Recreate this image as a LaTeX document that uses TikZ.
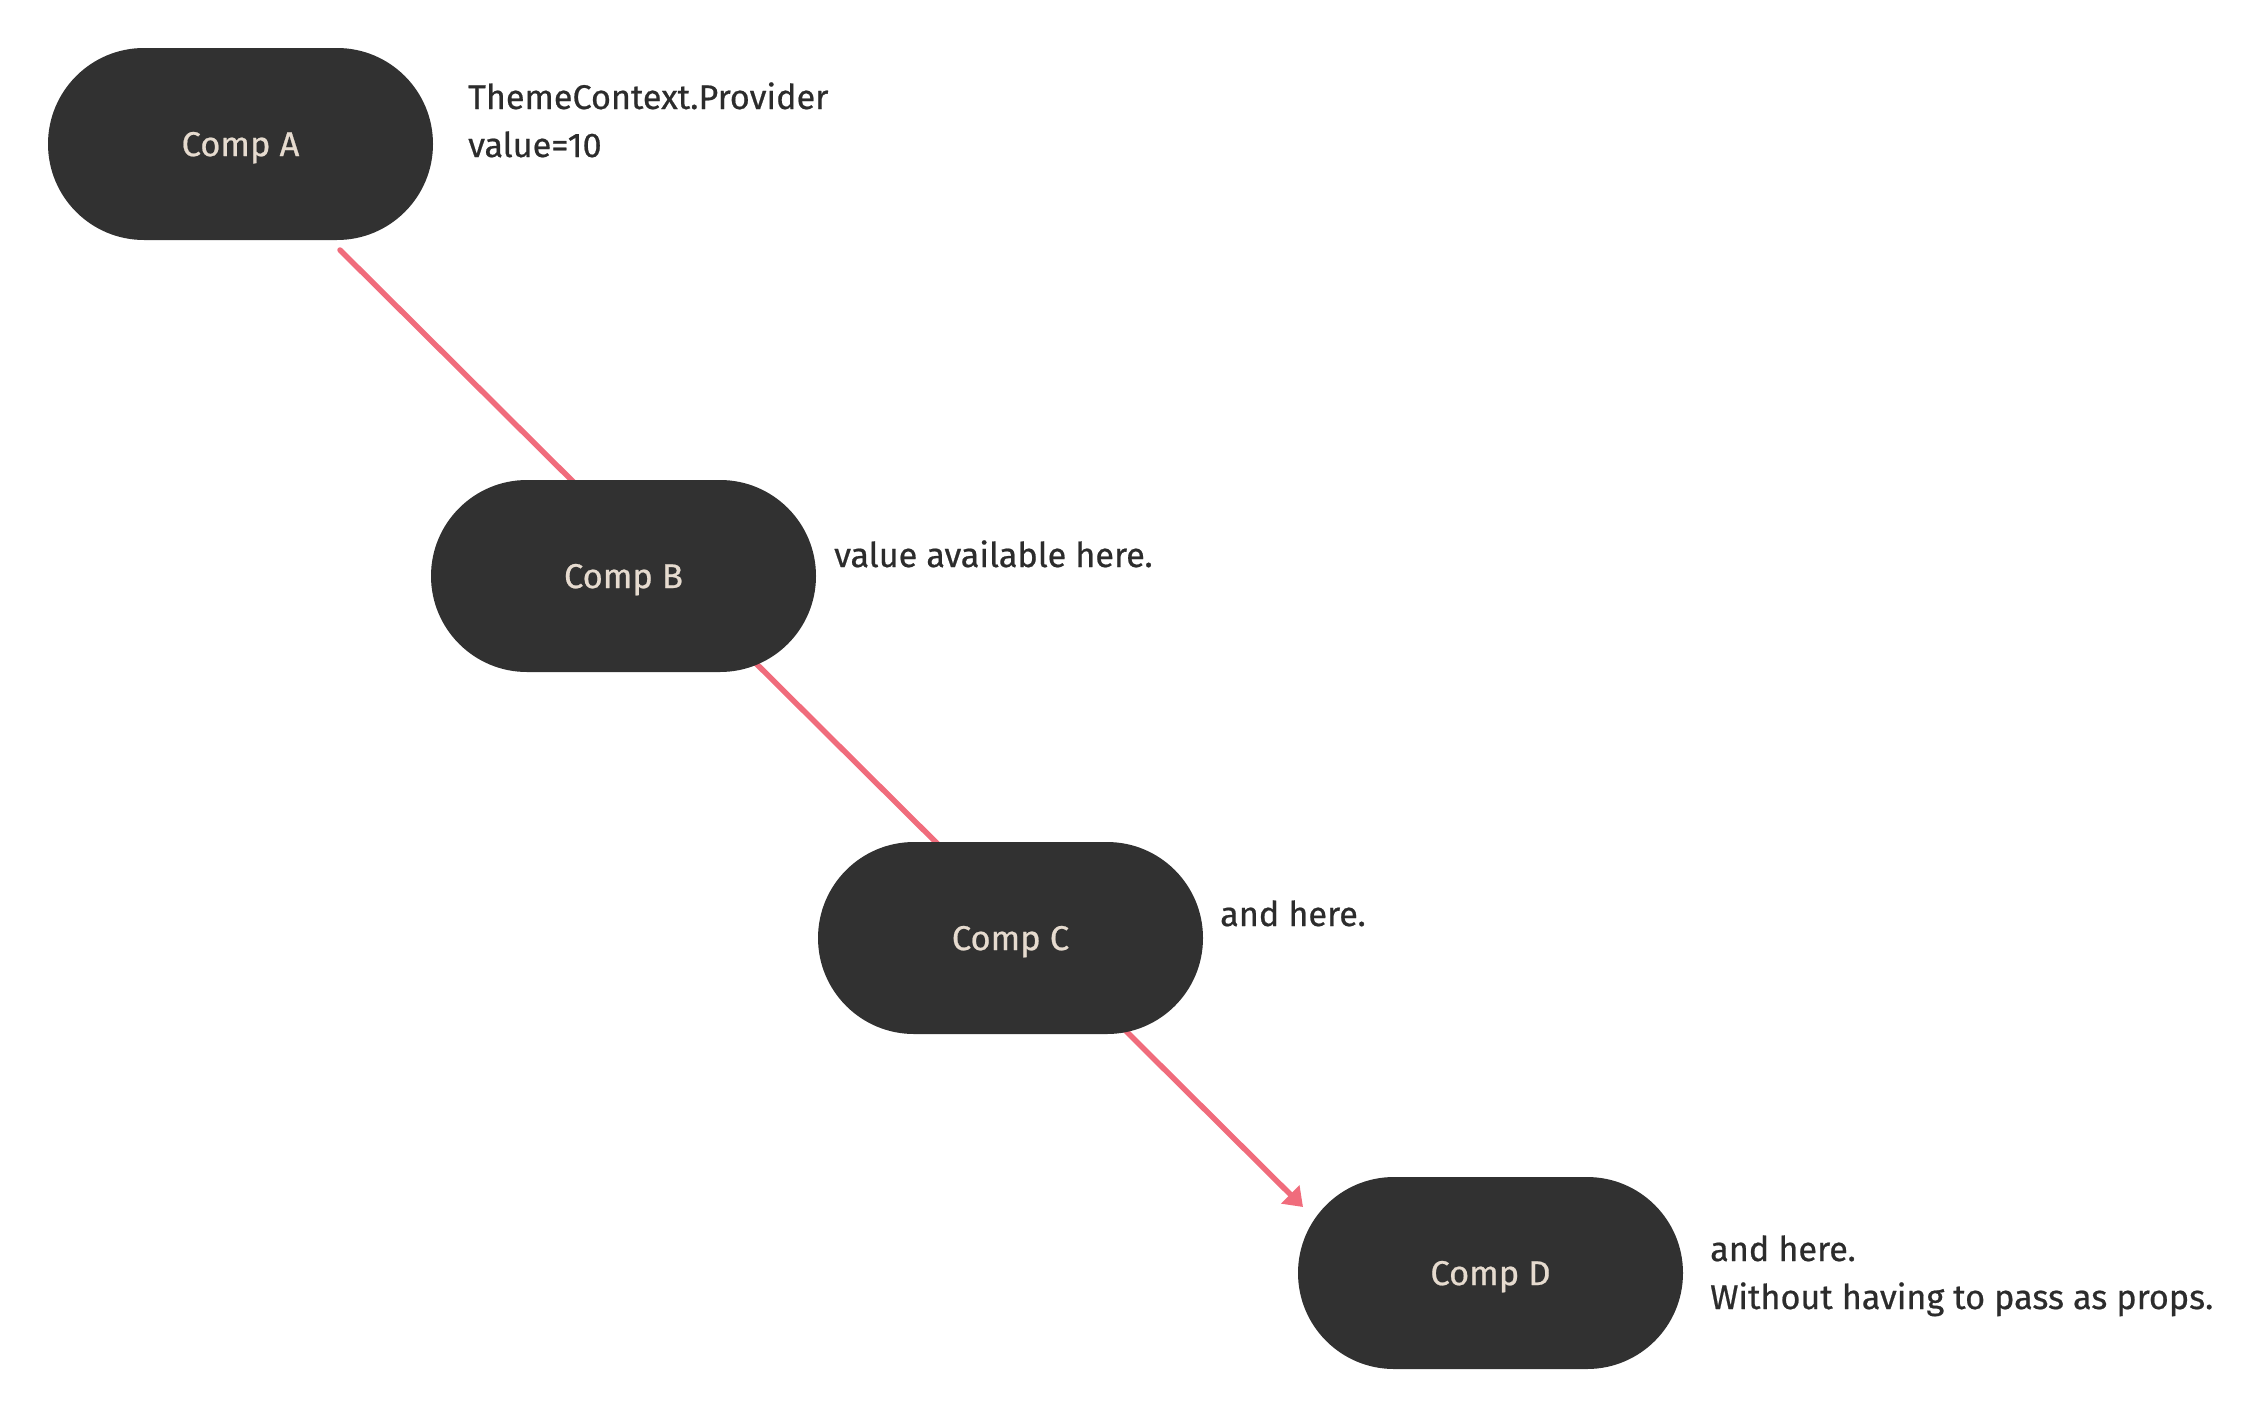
\documentclass[tikz,border=0pt]{standalone}
\usepackage{fontspec}
\setmainfont{Fira Sans}[FakeBold=0.6]
\usetikzlibrary{calc,arrows.meta,backgrounds}
\definecolor{nodefill}{HTML}{313131}
\definecolor{nodetext}{HTML}{E6DBCF}
\definecolor{labeltext}{HTML}{2C2C2C}
\definecolor{linkpink}{HTML}{F06C7C}
\begin{document}
\begin{tikzpicture}[x=1pt,y=-1pt,
  comp/.style={rectangle, rounded corners=96pt, fill=nodefill, text=nodetext,
    minimum width=385pt, minimum height=192pt, inner sep=0pt, text depth=0pt,
    font=\fontsize{34.5}{40}\selectfont},
  note/.style={anchor=base west, inner sep=0pt, text=labeltext,
    font=\fontsize{34.2}{48}\selectfont},
  link/.style={draw=linkpink, line width=5.5pt, line cap=round,
    -{Triangle[length=18pt,width=25pt]}}
]
\useasboundingbox (0,0) rectangle (2258,1416);
\node[comp] (A) at (240.5,144) {Comp A};
\node[comp] (B) at (623.5,576) {Comp B};
\node[comp] (C) at (1010.5,938) {Comp C};
\node[comp] (D) at (1490.5,1273) {Comp D};

\node[note] (a1) at (468,109) {ThemeContext.Provider};
\node[note] (a2) at (468,157) {value=10};
\node[note] (b1) at (834,567) {value available here.};
\node[note] (c1) at (1220,926) {and here.};
\node[note] (d1) at (1710,1261) {and here.};
\node[note] (d2) at (1710,1309) {Without having to pass as props.};

\begin{pgfonlayer}{background}
\coordinate (s) at ($(A.center)+(99.5,106)$);
\coordinate (t) at ($(D.center)+(-187.5,-66)$);
\draw[link] (s) -- (t);
\end{pgfonlayer}
\end{tikzpicture}
\end{document}
